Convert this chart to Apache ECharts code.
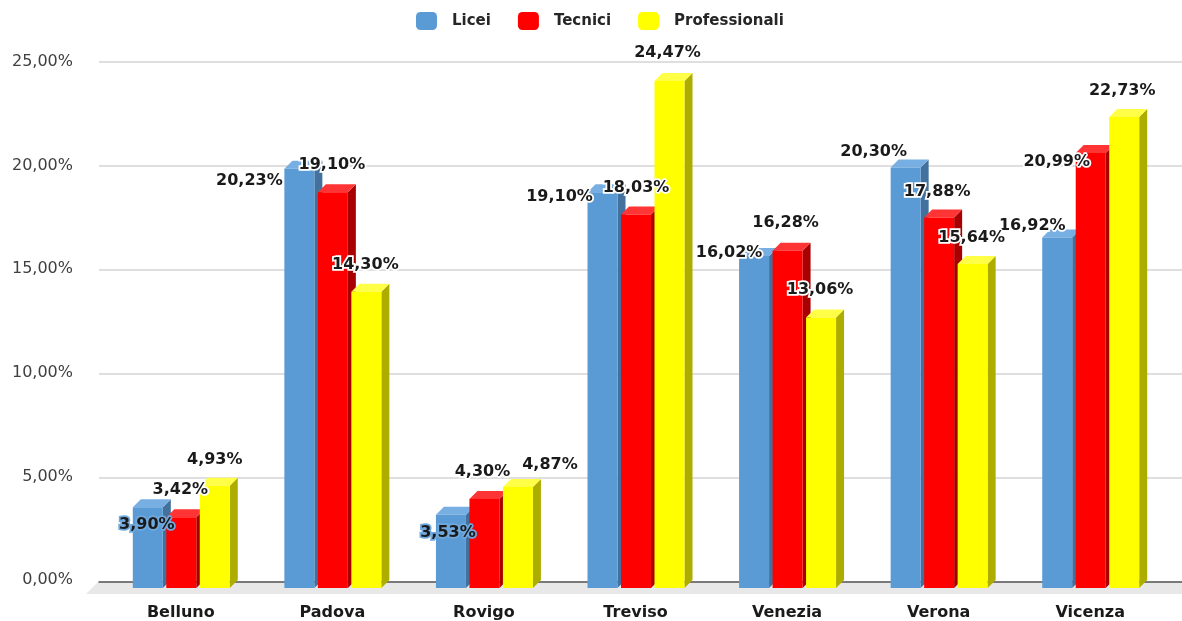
<!DOCTYPE html>
<html>
<head>
<meta charset="utf-8">
<script src="https://cdn.jsdelivr.net/npm/echarts@6/dist/echarts.min.js"></script>
<style>
  html, body { margin: 0; padding: 0; background: #ffffff; }
  #chart { width: 1182px; height: 621px; }
</style>
</head>
<body>
<div id="chart"></div>
<script>
// ---- data ----
const categories = ['Belluno', 'Padova', 'Rovigo', 'Treviso', 'Venezia', 'Verona', 'Vicenza'];
const seriesNames = ['Licei', 'Tecnici', 'Professionali'];
const licei = [3.90, 20.23, 3.53, 19.10, 16.02, 20.30, 16.92];
const tecnici = [3.42, 19.10, 4.30, 18.03, 16.28, 17.88, 20.99];
const professionali = [4.93, 14.30, 4.87, 24.47, 13.06, 15.64, 22.73];
const yTickLabels = ['0,00%', '5,00%', '10,00%', '15,00%', '20,00%', '25,00%'];

// ---- layout / style (kept apart from data) ----
const COLORS = [
  { front: '#5b9bd5', side: '#41719c', top: '#78afe2' },
  { front: '#ff0000', side: '#a80000', top: '#ff3434' },
  { front: '#ffff00', side: '#adad00', top: '#ffff48' }
];
// label offsets (dx, dy) relative to bar front centre / value position
const LABEL_OFFSETS = [
  [[-1, 26], [-50, 20], [-3, 26], [-43, 13], [-25, 5], [-32, -8], [-25, -4]],
  [[-1, -19], [-1, -19], [-2, -19], [0, -19], [-2, -20], [-2, -18], [-34, 17]],
  [[0, -18], [-1, -19], [32, -14], [-2, -20], [-1, -20], [-1, -18], [-2, -18]]
];
const LABEL_HALOS = [
  ['#6fa8dc', '#ffffff', '#6fa8dc', '#ffffff', '#ffffff', '#ffffff', '#ffffff'],
  ['#ffffff', '#ffffff', '#ffffff', '#ffffff', '#ffffff', '#ffffff', '#ffffff'],
  ['#ffffff', '#ffffff', '#ffffff', '#ffffff', '#ffffff', '#ffffff', '#ffffff']
];
const FONT = 'DejaVu Sans, Verdana, sans-serif';

function fmt(v) { return v.toFixed(2).replace('.', ',') + '%'; }

function makeRender(si) {
  return function (params, api) {
    const ci = api.value(0);
    const v = api.value(1);
    const top = api.coord([ci, v]);
    const base = api.coord([ci, 0]);
    const band = api.size([1, 0])[0];
    const k = band / 151.6;
    const D = 8;
    const W = 30 * k;
    const fx = top[0] - 48 * k + si * 33.5 * k;
    const ftop = top[1] + D;
    const fbot = base[1] + D;
    const c = COLORS[si];
    const off = LABEL_OFFSETS[si][params.dataIndex];
    const halo = LABEL_HALOS[si][params.dataIndex];
    return {
      type: 'group',
      children: [
        {
          type: 'polygon',
          shape: { points: [[fx + W, ftop], [fx + W + D, ftop - D], [fx + W + D, fbot - D], [fx + W, fbot]] },
          style: { fill: c.side }
        },
        {
          type: 'polygon',
          shape: { points: [[fx, ftop], [fx + D, ftop - D], [fx + W + D, ftop - D], [fx + W, ftop]] },
          style: { fill: c.top }
        },
        {
          type: 'rect',
          shape: { x: fx, y: ftop, width: W, height: fbot - ftop },
          style: { fill: c.front }
        },
        {
          type: 'text',
          z2: 100,
          x: fx + W / 2 + off[0],
          y: top[1] + off[1],
          style: {
            text: fmt(v),
            fill: '#1a1a1a',
            font: 'bold 16px ' + FONT,
            align: 'center',
            verticalAlign: 'middle',
            stroke: halo,
            lineWidth: 3.5
          }
        }
      ]
    };
  };
}

const allValues = [licei, tecnici, professionali];

const chart = echarts.init(document.getElementById('chart'), null, { renderer: 'canvas' });

const option = {
  backgroundColor: '#ffffff',
  animation: false,
  legend: {
    data: seriesNames,
    top: 12,
    left: 416,
    padding: 0,
    itemWidth: 21,
    itemHeight: 18,
    itemGap: 27,
    icon: 'roundRect',
    textStyle: {
      fontFamily: FONT,
      fontSize: 15,
      fontWeight: 'bold',
      color: '#262626',
      padding: [0, 0, 0, 10]
    }
  },
  graphic: [
    {
      type: 'polygon',
      z: 0,
      shape: { points: [[98, 582], [1182, 582], [1182, 594], [86, 594]] },
      style: { fill: '#e8e8e8' }
    }
  ],
  grid: [
    { left: 105, right: 16, top: 62, bottom: 39 },
    { left: 99, right: 0, top: 62, bottom: 39 }
  ],
  xAxis: [
    {
      type: 'category',
      gridIndex: 0,
      data: categories,
      axisLine: { show: false },
      axisTick: { show: false },
      axisLabel: {
        margin: 25,
        fontFamily: FONT,
        fontSize: 16,
        fontWeight: 'bold',
        color: '#1a1a1a'
      }
    },
    {
      type: 'value',
      gridIndex: 1,
      min: 0,
      max: 1,
      axisLine: { show: true, lineStyle: { color: '#595959', width: 1.5 } },
      axisTick: { show: false },
      axisLabel: { show: false },
      splitLine: { show: false }
    }
  ],
  yAxis: [
    {
      type: 'value',
      gridIndex: 0,
      min: 0,
      max: 25,
      interval: 5,
      axisLine: { show: false },
      axisTick: { show: false },
      splitLine: { show: false },
      axisLabel: {
        margin: 32,
        fontFamily: FONT,
        fontSize: 16,
        color: '#404040',
        formatter: function (val) { return yTickLabels[Math.round(val / 5)]; }
      }
    },
    {
      type: 'value',
      gridIndex: 1,
      min: 0,
      max: 25,
      interval: 5,
      axisLine: { show: false },
      axisTick: { show: false },
      axisLabel: { show: false },
      splitLine: { show: true, lineStyle: { color: '#d4d4d4', width: 1.5 } }
    }
  ],
  series: seriesNames.map(function (name, si) {
    return {
      name: name,
      type: 'custom',
      xAxisIndex: 0,
      yAxisIndex: 0,
      itemStyle: { color: COLORS[si].front },
      renderItem: makeRender(si),
      encode: { x: 0, y: 1 },
      data: allValues[si].map(function (v, i) { return [i, v]; })
    };
  })
};

chart.setOption(option);
</script>
</body>
</html>
